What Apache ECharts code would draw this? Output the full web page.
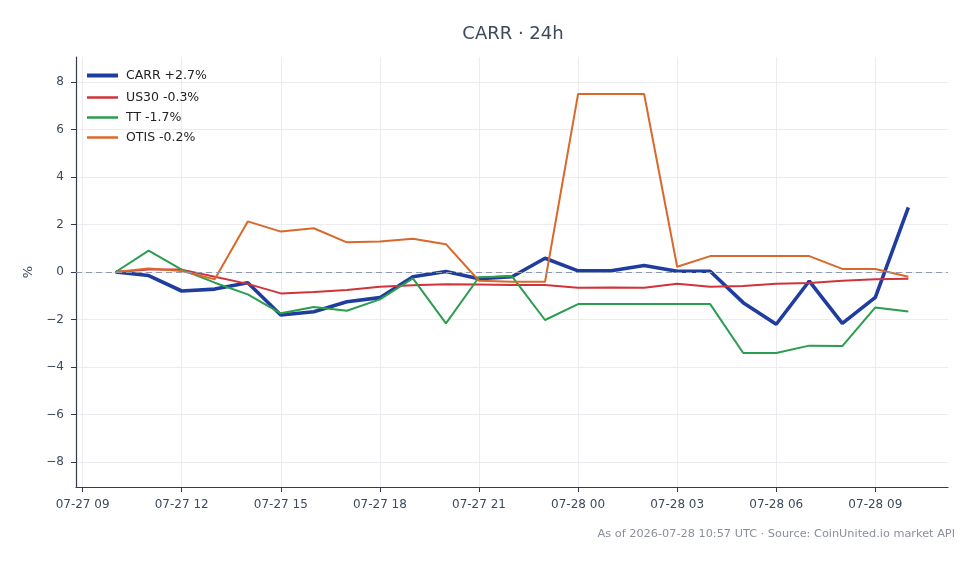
<!DOCTYPE html>
<html>
<head>
<meta charset="utf-8">
<title>CARR 24h</title>
<script src="https://cdn.jsdelivr.net/npm/echarts@6/dist/echarts.min.js"></script>
<style>
  html, body { margin: 0; padding: 0; background: #fff; }
  #chart { width: 980px; height: 564px; }
</style>
</head>
<body>
<div id="chart"></div>
<script>
// hourly points, 07-27 10:00 .. 07-28 10:00 (UTC)
var times = [
  '07-27 10', '07-27 11', '07-27 12', '07-27 13', '07-27 14', '07-27 15', '07-27 16',
  '07-27 17', '07-27 18', '07-27 19', '07-27 20', '07-27 21', '07-27 22', '07-27 23',
  '07-28 00', '07-28 01', '07-28 02', '07-28 03', '07-28 04', '07-28 05', '07-28 06',
  '07-28 07', '07-28 08', '07-28 09', '07-28 10'
]
var carr = [0, -0.15, -0.8, -0.72, -0.45, -1.81, -1.67, -1.25, -1.08, -0.2, 0.02, -0.28,
  -0.2, 0.58, 0.05, 0.05, 0.27, 0.03, 0.03, -1.29, -2.2, -0.38, -2.16, -1.07, 2.72]
var us30 = [0, 0.1, 0.1, -0.2, -0.5, -0.9, -0.84, -0.76, -0.62, -0.56, -0.52, -0.53,
  -0.55, -0.55, -0.66, -0.65, -0.66, -0.49, -0.62, -0.59, -0.49, -0.46, -0.37, -0.3, -0.28]
var tt = [0, 0.9, 0.1, -0.45, -0.94, -1.74, -1.47, -1.63, -1.15, -0.27, -2.16, -0.22,
  -0.18, -2.02, -1.35, -1.35, -1.35, -1.35, -1.35, -3.41, -3.41, -3.1, -3.12, -1.49, -1.66]
var otis = [0, 0.15, 0.04, -0.31, 2.13, 1.7, 1.84, 1.25, 1.28, 1.4, 1.17, -0.37,
  -0.41, -0.41, 7.49, 7.49, 7.49, 0.22, 0.67, 0.67, 0.67, 0.67, 0.13, 0.13, -0.2]
var xTicks = ['07-27 09', '07-27 12', '07-27 15', '07-27 18', '07-27 21',
  '07-28 00', '07-28 03', '07-28 06', '07-28 09']
var yTicks = [-8, -6, -4, -2, 0, 2, 4, 6, 8]

// 'MM-DD HH' -> hours since 07-27 00:00
function hrs (s) {
  var day = parseInt(s.slice(3, 5), 10)
  var h = parseInt(s.slice(6, 8), 10)
  return (day - 27) * 24 + h
}
function pad (n) {
  return (n < 10 ? '0' : '') + n
}
function hrsLabel (v) {
  var day = 27 + Math.floor(v / 24)
  return '07-' + pad(day) + ' ' + pad(Math.round(v % 24))
}
function pairs (vals) {
  return vals.map(function (v, i) { return [hrs(times[i]), v] })
}

var axisColor = '#333c4a'
var labelColor = '#3d4a5c'
var gridColor = '#ebebf0'
var font = 'DejaVu Sans'
var legendText = { fontSize: 12.5, color: '#222', fontFamily: font, padding: [0, 0, 0, 3] }

var chart = echarts.init(document.getElementById('chart'))
var option = {
  animation: false,
  textStyle: { fontFamily: font },
  title: [
    {
      text: 'CARR · 24h',
      left: 508,
      top: 20,
      textAlign: 'center',
      textStyle: { fontSize: 18, fontWeight: 'normal', color: '#3d4a5c', fontFamily: font }
    },
    {
      text: 'As of 2026-07-28 10:57 UTC · Source: CoinUnited.io market API',
      right: 20,
      top: 524,
      textStyle: { fontSize: 11.3, fontWeight: 'normal', color: '#8a8f99', fontFamily: font }
    }
  ],
  // two legends so the CARR sample can be drawn thicker
  legend: [
    {
      left: 82,
      top: 64,
      icon: 'rect',
      itemWidth: 31,
      itemHeight: 4,
      textStyle: legendText,
      data: ['CARR +2.7%']
    },
    {
      left: 82,
      top: 86,
      orient: 'vertical',
      icon: 'rect',
      itemGap: 7,
      itemWidth: 31,
      itemHeight: 2.5,
      textStyle: legendText,
      data: ['US30 -0.3%', 'TT -1.7%', 'OTIS -0.2%']
    }
  ],
  grid: { left: 76, right: 32, top: 57, bottom: 77 },
  xAxis: {
    type: 'value',
    min: hrs(times[0]) - 1.2,
    max: hrs(times[times.length - 1]) + 1.2,
    axisLine: { show: true, onZero: false, lineStyle: { color: axisColor, width: 1.2 } },
    axisTick: { show: true, length: 5, lineStyle: { color: axisColor }, customValues: xTicks.map(hrs) },
    axisLabel: {
      customValues: xTicks.map(hrs),
      color: labelColor,
      fontSize: 12,
      margin: 12,
      formatter: hrsLabel
    },
    splitLine: { show: true, lineStyle: { color: gridColor, width: 1 } }
  },
  yAxis: {
    type: 'value',
    min: -9.05,
    max: 9.05,
    name: '%',
    nameLocation: 'middle',
    nameGap: 40,
    nameRotate: 90,
    nameTextStyle: { fontSize: 13, color: labelColor },
    axisLine: { show: true, onZero: false, lineStyle: { color: axisColor, width: 1.2 } },
    axisTick: { show: true, length: 5, lineStyle: { color: axisColor }, customValues: yTicks },
    axisLabel: {
      customValues: yTicks,
      color: labelColor,
      fontSize: 12,
      margin: 12,
      formatter: function (v) {
        return v < 0 ? '\u2212' + Math.abs(v) : String(v)
      }
    },
    splitLine: { show: true, lineStyle: { color: gridColor, width: 1 } }
  },
  series: [
    {
      name: 'CARR +2.7%',
      type: 'line',
      data: pairs(carr),
      symbol: 'none',
      color: '#1f3d9e',
      lineStyle: { width: 3.6 },
      markLine: {
        silent: true,
        symbol: 'none',
        label: { show: false },
        lineStyle: { color: '#8e9ab0', type: [6, 4], width: 1.1 },
        data: [{ yAxis: 0 }]
      }
    },
    {
      name: 'US30 -0.3%',
      type: 'line',
      data: pairs(us30),
      symbol: 'none',
      color: '#d0343a',
      lineStyle: { width: 2 }
    },
    {
      name: 'TT -1.7%',
      type: 'line',
      data: pairs(tt),
      symbol: 'none',
      color: '#2a9d4f',
      lineStyle: { width: 2 }
    },
    {
      name: 'OTIS -0.2%',
      type: 'line',
      data: pairs(otis),
      symbol: 'none',
      color: '#d8692a',
      lineStyle: { width: 2 }
    }
  ]
}
chart.setOption(option)
</script>
</body>
</html>
